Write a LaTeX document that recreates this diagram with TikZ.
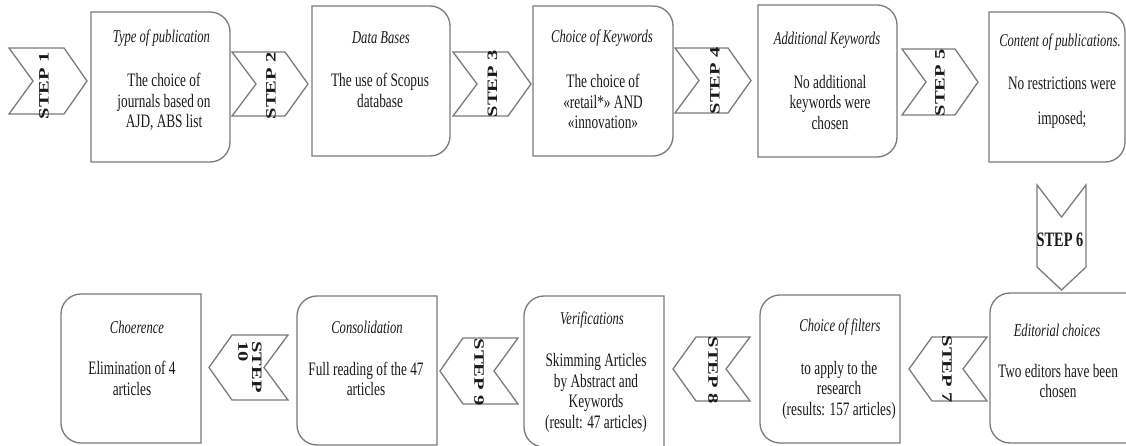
\documentclass[tikz,border=0pt]{standalone}
\usepackage{fontspec}
\setmainfont{Liberation Serif}
\definecolor{linegray}{HTML}{7A7A7A}
\definecolor{ink}{HTML}{1A1A1A}

% box with rounded right-hand corners
\newcommand\boxroundright[1]{%
  \draw[outline] (#1.south west) -- (#1.north west) -- ([xshift=-20pt]#1.north east)
    arc[start angle=90, end angle=0, radius=20pt] -- ([yshift=20pt]#1.south east)
    arc[start angle=0, end angle=-90, radius=20pt] -- cycle;}
% box with rounded left-hand corners
\newcommand\boxroundleft[1]{%
  \draw[outline] (#1.north east) -- ([xshift=20pt]#1.north west)
    arc[start angle=90, end angle=180, radius=20pt] -- ([yshift=20pt]#1.south west)
    arc[start angle=180, end angle=270, radius=20pt] -- (#1.south east) -- cycle;}
% chevron pointing right
\newcommand\chevright[1]{%
  \draw[outline] (#1.north west) -- ([xshift=-23pt]#1.north east) -- (#1.east)
    -- ([xshift=-23pt]#1.south east) -- (#1.south west) -- ([xshift=24pt]#1.west) -- cycle;}
% chevron pointing left
\newcommand\chevleft[1]{%
  \draw[outline] (#1.north east) -- ([xshift=23pt]#1.north west) -- (#1.west)
    -- ([xshift=23pt]#1.south west) -- (#1.south east) -- ([xshift=-24pt]#1.east) -- cycle;}
% chevron pointing down
\newcommand\chevdown[1]{%
  \draw[outline] (#1.north west) -- ([yshift=-32pt]#1.north) -- (#1.north east)
    -- ([yshift=23pt]#1.south east) -- (#1.south) -- ([yshift=23pt]#1.south west) -- cycle;}

\begin{document}
\begin{tikzpicture}[x=1pt, y=-1pt,
  outline/.style={draw=linegray, line width=1.3pt, line join=miter},
  frame/.style={shape=rectangle, inner sep=0pt, outer sep=0pt, draw=none},
  squeeze/.style={xscale=0.70, inner sep=0pt, text=ink},
  ttl/.style={squeeze, font=\fontsize{18}{20}\selectfont\itshape},
  body/.style={squeeze, align=center, font=\fontsize{19}{20.5}\selectfont},
  steplbl/.style={squeeze, align=left, font=\fontsize{20.5}{19.5}\selectfont\bfseries},
]
\useasboundingbox (0,0) rectangle (1126,446);
\clip (0,0) rectangle (1126,446);

% ---- box frames ----
\node[frame, minimum width=139pt, minimum height=150pt] (b1) at (160.5,87) {};
\node[frame, minimum width=138pt, minimum height=150pt] (b2) at (381,81) {};
\node[frame, minimum width=140pt, minimum height=150pt] (b3) at (603,81) {};
\node[frame, minimum width=139pt, minimum height=152pt] (b4) at (827.5,81) {};
\node[frame, minimum width=136pt, minimum height=150pt] (b5) at (1057,87) {};
\node[frame, minimum width=150pt, minimum height=150pt] (b6) at (1065,368) {};
\node[frame, minimum width=140pt, minimum height=148pt] (b7) at (830,369) {};
\node[frame, minimum width=140pt, minimum height=151pt] (b8) at (594,371.5) {};
\node[frame, minimum width=140pt, minimum height=149pt] (b9) at (367,370.5) {};
\node[frame, minimum width=140pt, minimum height=149pt] (b10) at (131,368.5) {};

\boxroundright{b1} \boxroundright{b2} \boxroundright{b3} \boxroundright{b4} \boxroundright{b5}
\boxroundleft{b6} \boxroundleft{b7} \boxroundleft{b8} \boxroundleft{b9} \boxroundleft{b10}

% ---- step chevrons ----
\node[frame, minimum width=78pt, minimum height=66pt] (s1) at (48,81) {};
\node[frame, minimum width=76pt, minimum height=64pt] (s2) at (270,84) {};
\node[frame, minimum width=78pt, minimum height=64pt] (s3) at (492,84) {};
\node[frame, minimum width=76pt, minimum height=65pt] (s4) at (713,80.5) {};
\node[frame, minimum width=76pt, minimum height=66pt] (s5) at (940,82) {};
\node[frame, minimum width=49pt, minimum height=105pt] (s6) at (1061.5,237.5) {};
\node[frame, minimum width=78pt, minimum height=64pt] (s7) at (948,369) {};
\node[frame, minimum width=77pt, minimum height=64pt] (s8) at (711.5,369) {};
\node[frame, minimum width=78pt, minimum height=66pt] (s9) at (479,371) {};
\node[frame, minimum width=79pt, minimum height=65pt] (s10) at (248.5,367.5) {};

\chevright{s1} \chevright{s2} \chevright{s3} \chevright{s4} \chevright{s5}
\chevdown{s6}
\chevleft{s7} \chevleft{s8} \chevleft{s9} \chevleft{s10}

% ---- step labels ----
\node[steplbl, rotate=90] (l1) at (44,86) {STEP 1};
\node[steplbl, rotate=90] (l2) at (271,86) {STEP 2};
\node[steplbl, rotate=90] (l3) at (492.5,84) {STEP 3};
\node[steplbl, rotate=90] (l4) at (715,81) {STEP 4};
\node[steplbl, rotate=90] (l5) at (940,83) {STEP 5};
\node[steplbl] (l6) at (1060,240) {STEP 6};
\node[steplbl, rotate=-90] (l7) at (947,369) {STEP 7};
\node[steplbl, rotate=-90] (l8) at (713,370) {STEP 8};
\node[steplbl, rotate=-90] (l9) at (479,372) {STEP 9};
\node[steplbl, rotate=-90] (l10) at (250,367) {STEP\\10};

% ---- box titles ----
\node[ttl] (t1) at (161.5,38) {Type of publication};
\node[ttl] (t2) at (381,38) {Data Bases};
\node[ttl] (t3) at (602,38) {Choice of Keywords};
\node[ttl] (t4) at (827,40) {Additional Keywords};
\node[ttl] (t5) at (1060,42) {Content of publications.};
\node[ttl] (t6) at (1057,330) {Editorial choices};
\node[ttl] (t7) at (840,327) {Choice of filters};
\node[ttl] (t8) at (592,320) {Verifications};
\node[ttl] (t9) at (367,327) {Consolidation};
\node[ttl] (t10) at (137,327) {Choerence};

% ---- box contents ----
\node[body] (c1) at (164,102) {The choice of\\journals based on\\AJD, ABS list};
\node[body] (c2) at (380,90.5) {The use of Scopus\\database};
\node[body] (c3) at (603,101.5) {The choice of\\«retail*» AND\\«innovation»};
\node[body] (c4) at (830,102.5) {No additional\\keywords were\\chosen};
\node[body] (c5) at (1062,102.5) {No restrictions were\\[14.5pt]imposed;};
\node[body] (c6) at (1058,381) {Two editors have been\\chosen};
\node[body] (c7) at (839,390) {to apply to the\\research\\(results: 157 articles)};
\node[body] (c8) at (596,393) {Skimming Articles\\by Abstract and\\Keywords\\(result: 47 articles)};
\node[body] (c9) at (366,379) {Full reading of the 47\\articles};
\node[body] (c10) at (132,378.5) {Elimination of 4\\articles};
\end{tikzpicture}
\end{document}
